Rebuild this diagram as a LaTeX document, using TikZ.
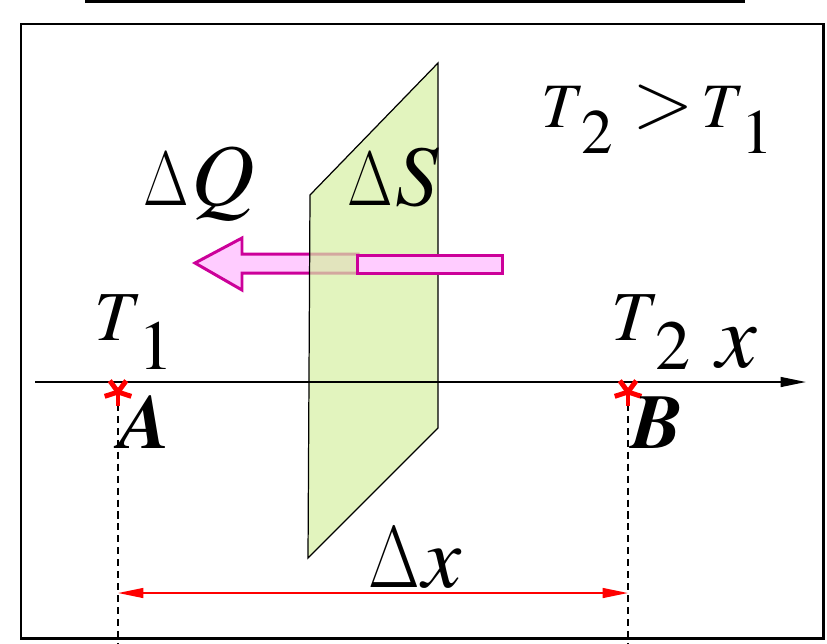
\RequirePackage{fix-cm}
\documentclass[tikz,border=0pt]{standalone}
\usepackage{graphicx}
\usepackage[no-math]{fontspec}
\setmainfont{texgyretermes}[Extension=.otf,UprightFont=*-regular,ItalicFont=*-italic,BoldFont=*-bold,BoldItalicFont=*-bolditalic]
\usetikzlibrary{arrows.meta}
\definecolor{planegreen}{RGB}{214,239,162}
\definecolor{flowpink}{RGB}{255,204,255}
\definecolor{flowmag}{RGB}{204,0,153}
\newcommand{\lowidx}[1]{\raisebox{-0.42em}{#1}}
\newcommand{\dlt}{\scalebox{0.76}[1]{$\Delta$}\hspace{0.03em}}
\tikzset{
  lbl/.style={font=\fontsize{#1}{#1}\selectfont,inner sep=0pt,anchor=base west},
  lbl/.default=40,
  guide/.style={line width=0.9pt,dash pattern=on 4pt off 2.8pt},
  flow/.style={draw=flowmag,fill=flowpink,line width=1.7pt,line join=miter},
  tip/.style={-{Triangle[length=14.5pt,width=5.6pt]}}
}
\begin{document}
\begin{tikzpicture}[x=0.02cm,y=-0.02cm]
\useasboundingbox (0,0) rectangle (827,643);
% rules
\draw[line width=1.7pt] (85,1.5) -- (745,1.5);
\draw[line width=1.7pt] (21,24) rectangle (823,638);
% heat flow arrow, behind the plane
\draw[flow] (195,263) -- (242,238) -- (242,254) -- (358,254) -- (358,273)
  -- (242,273) -- (242,290) -- cycle;
% plane
\draw[fill=planegreen,fill opacity=0.7,line width=0.7pt]
  (310,195) -- (438,63) -- (438,428) -- (308,558) -- cycle;
% tail of the arrow, in front of the plane
\draw[flow] (357,255) rectangle (502,273);
% axis
\coordinate (o) at (35,382);
\coordinate (xend) at (806,382);
\draw[line width=1.1pt,tip] (o) -- (xend);
% points
\coordinate (A) at (118,392);
\coordinate (B) at (628,392);
\coordinate (Ad) at (118,643);
\coordinate (Bd) at (628,643);
\draw[guide] (A) -- (Ad);
\draw[guide] (B) -- (Bd);
\foreach \p in {A,B}{
  \foreach \a in {90,162,234,306,18}
    \draw[red,line width=2.8pt] (\p) -- ++(\a:14);
}
% distance
\coordinate (dA) at (118,593);
\coordinate (dB) at (628,593);
\draw[red,line width=1.1pt,{Triangle[length=14.5pt,width=5.6pt]}-{Triangle[length=14.5pt,width=5.6pt]}] (dA) -- (dB);
% labels
\node[lbl=36] (cond) at (541,127)
  {\textit{T}\lowidx{2}\hspace{0.3em}{\fontsize{46}{46}\selectfont$>$}\hspace{0.12em}\textit{T}\lowidx{1}};
\node[lbl=44] (dq) at (143,205) {\dlt{\fontsize{50}{50}\selectfont\textit{Q}}};
\node[lbl=44] (ds) at (347,205) {\dlt{\fontsize{49}{49}\selectfont\textit{S}}};
\node[lbl] (t1) at (94,340) {\textit{T}\lowidx{1}};
\node[lbl] (t2) at (611,340) {\textit{T}\lowidx{2}};
\node[lbl=52] (xl) at (716,367) {\textit{x}};
\node[lbl=44] (la) at (119,448) {\textbf{\textit{A}}};
\node[lbl=44] (lb) at (631,448) {\textbf{\textit{B}}};
\node[lbl=50] (dx) at (368,587) {\dlt\textit{x}};
\end{tikzpicture}
\end{document}
